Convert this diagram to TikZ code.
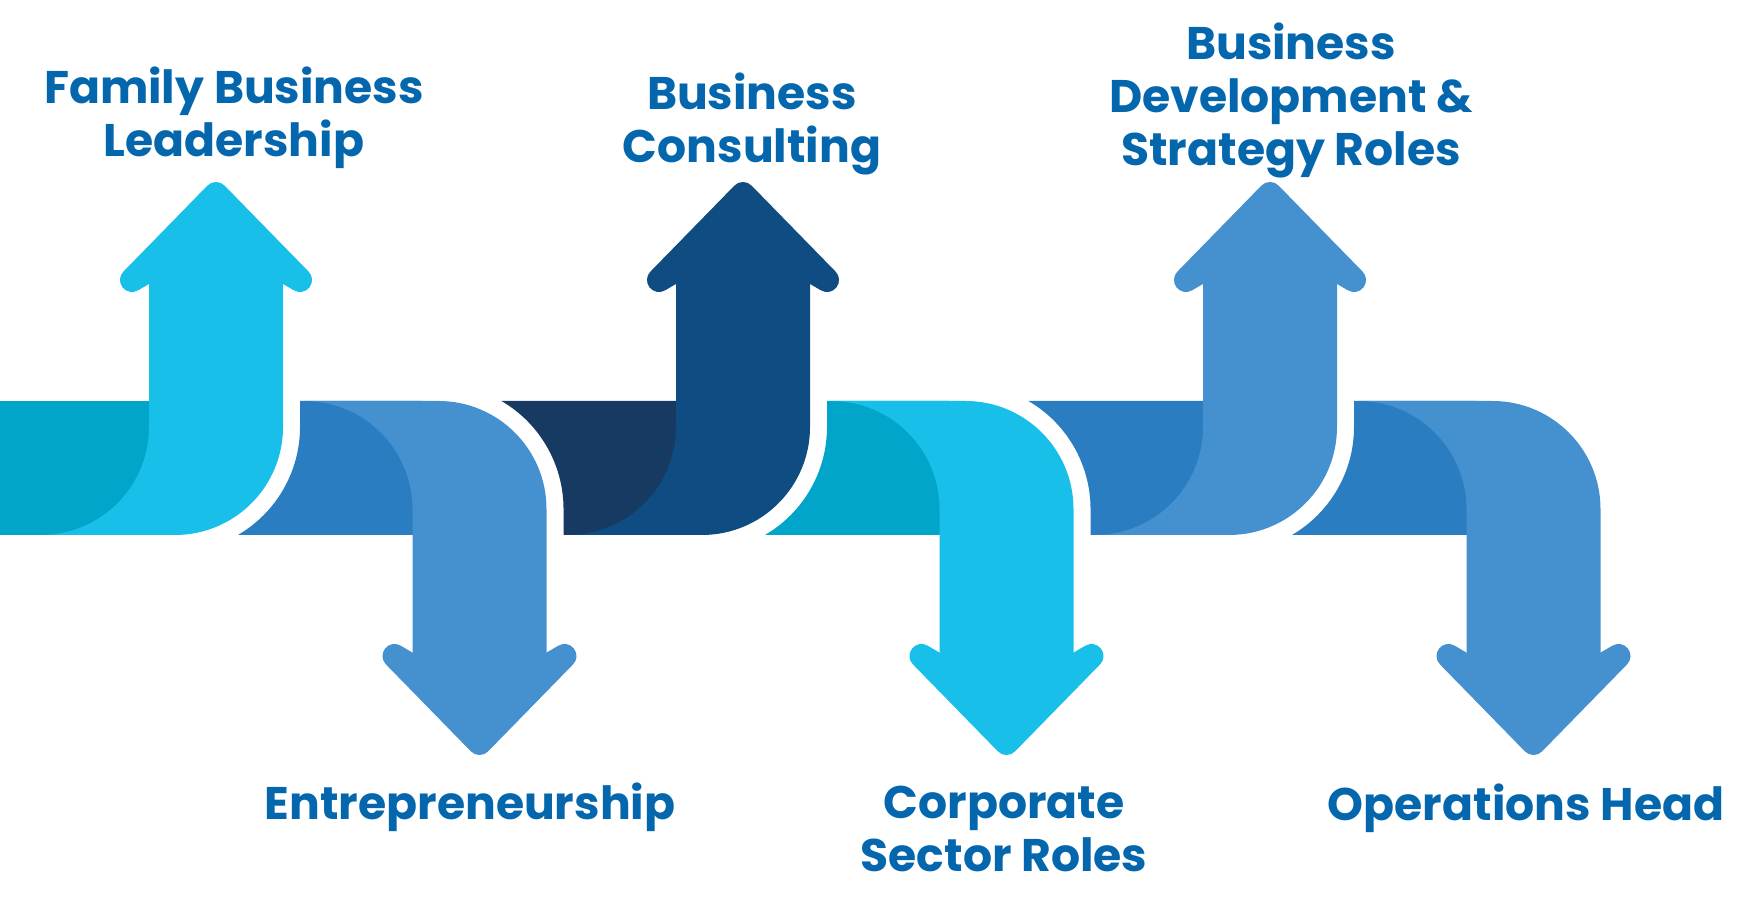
\documentclass[tikz,border=0pt]{standalone}
\usepackage{fontspec}
\setmainfont{Poppins}
\definecolor{tealD}{HTML}{00A5C9}
\definecolor{cyanL}{HTML}{18BFE8}
\definecolor{blueD}{HTML}{2A7DC1}
\definecolor{blueL}{HTML}{4590CE}
\definecolor{navyD}{HTML}{173A63}
\definecolor{navyL}{HTML}{0E4C81}
\definecolor{txt}{HTML}{0467AD}

\begin{document}
\begin{tikzpicture}[x=1pt, y=1pt,
	headfill/.style={line width=24pt, line join=round},
	lbl/.style={anchor=base, align=center, inner sep=0pt, text=txt,
		font=\fontsize{45.7}{53.3}\selectfont\bfseries}]
	\useasboundingbox (0,0) rectangle (1749,902);

	\fill[tealD] (0,367) rectangle (159,501);
	\fill[blueD] (300,501) -- (300,475) arc[start angle=0, end angle=-59.77, radius=125] -- (422.5,367) -- (422.5,501) -- cycle;
	\fill[navyD] (501.45,501) arc[start angle=59.77, end angle=0, radius=125] -- (563.5,367) -- (686,367) -- (686,501) -- cycle;
	\fill[tealD] (827,501) -- (827,475) arc[start angle=0, end angle=-59.77, radius=125] -- (949.5,367) -- (949.5,501) -- cycle;
	\fill[blueD] (1028.45,501) arc[start angle=59.77, end angle=0, radius=125] -- (1090.5,367) -- (1213,367) -- (1213,501) -- cycle;
	\fill[blueD] (1354,501) -- (1354,475) arc[start angle=0, end angle=-59.77, radius=125] -- (1476.5,367) -- (1476.5,501) -- cycle;

	\fill[cyanL] (41,367) arc[start angle=-90, end angle=0, radius=108] -- (149,650) -- (283,650) -- (283,475) arc[start angle=0, end angle=-90, radius=108] -- cycle;
	\filldraw[cyanL, headfill] (216,708) -- (132,622) -- (156,636) -- (276,636) -- (300,622) -- cycle;

	\fill[blueL] (304.5,501) arc[start angle=90, end angle=0, radius=108] -- (412.5,225) -- (546.5,225) -- (546.5,393) arc[start angle=0, end angle=90, radius=108] -- cycle;
	\filldraw[blueL, headfill] (479.5,159) -- (394.5,246) -- (418.5,232) -- (540.5,232) -- (564.5,246) -- cycle;

	\fill[navyL] (568,367) arc[start angle=-90, end angle=0, radius=108] -- (676,650) -- (810,650) -- (810,475) arc[start angle=0, end angle=-90, radius=108] -- cycle;
	\filldraw[navyL, headfill] (743,708) -- (659,622) -- (683,636) -- (803,636) -- (827,622) -- cycle;

	\fill[cyanL] (831.5,501) arc[start angle=90, end angle=0, radius=108] -- (939.5,225) -- (1073.5,225) -- (1073.5,393) arc[start angle=0, end angle=90, radius=108] -- cycle;
	\filldraw[cyanL, headfill] (1006.5,159) -- (921.5,246) -- (945.5,232) -- (1067.5,232) -- (1091.5,246) -- cycle;

	\fill[blueL] (1095,367) arc[start angle=-90, end angle=0, radius=108] -- (1203,650) -- (1337,650) -- (1337,475) arc[start angle=0, end angle=-90, radius=108] -- cycle;
	\filldraw[blueL, headfill] (1270,708) -- (1186,622) -- (1210,636) -- (1330,636) -- (1354,622) -- cycle;

	\fill[blueL] (1358.5,501) arc[start angle=90, end angle=0, radius=108] -- (1466.5,225) -- (1600.5,225) -- (1600.5,393) arc[start angle=0, end angle=90, radius=108] -- cycle;
	\filldraw[blueL, headfill] (1533.5,159) -- (1448.5,246) -- (1472.5,232) -- (1594.5,232) -- (1618.5,246) -- cycle;

	\node[lbl] (Lead) at (234,745.3) {Family Business\\Leadership};
	\node[lbl] (Cons) at (752,739.3) {Business\\Consulting};
	\node[lbl] (Strat) at (1291,736.3) {Business\\Development \&\\Strategy Roles};
	\node[lbl] (Entr) at (470,82) {Entrepreneurship};
	\node[lbl] (Corp) at (1004,30.3) {Corporate\\Sector Roles};
	\node[lbl] (Ops) at (1526,81.3) {Operations Head};
\end{tikzpicture}
\end{document}
